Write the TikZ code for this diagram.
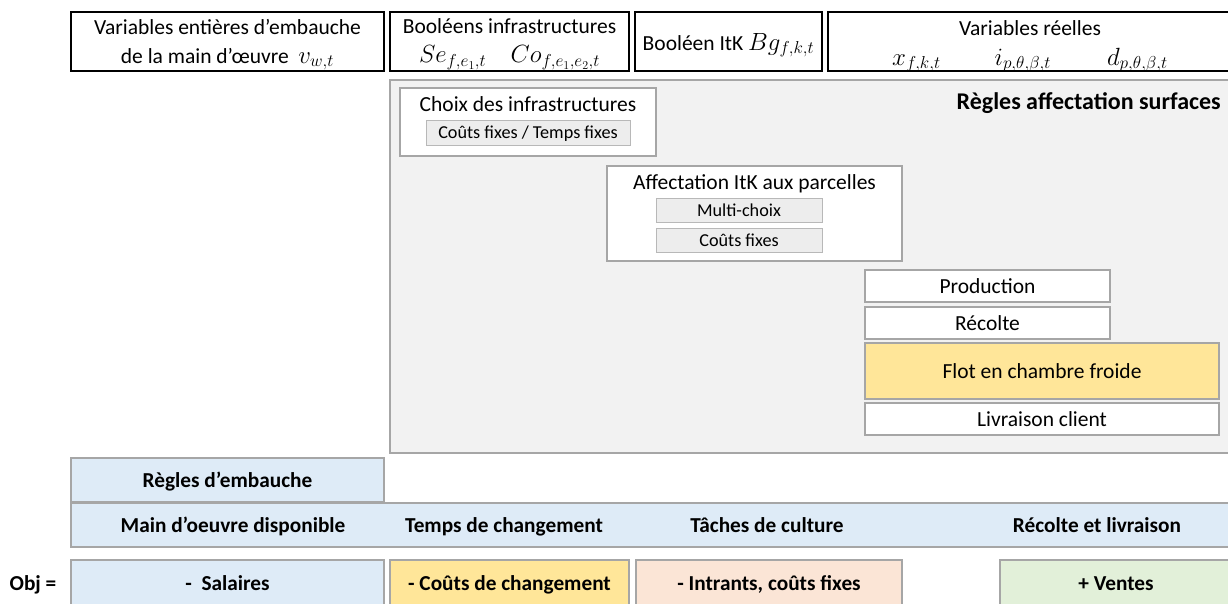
\documentclass[tikz,border=0pt]{standalone}
\usepackage{fontspec}
\setmainfont{Carlito}
\definecolor{grayfill}{HTML}{F2F2F2}
\definecolor{grayline}{HTML}{A6A6A6}
\definecolor{innerfill}{HTML}{EDEDED}
\definecolor{lblue}{HTML}{DEEBF7}
\definecolor{lyellow}{HTML}{FFE699}
\definecolor{lpeach}{HTML}{FBE5D6}
\definecolor{lgreen}{HTML}{E2F0D9}
\newcommand{\varmath}[1]{{\fontsize{24.5}{29}\selectfont$#1$}}
\tikzset{
  th/.style={text height=16pt, text depth=2pt},
  thi/.style={text height=13.5pt, text depth=1.5pt},
  varbox/.style={draw=black, line width=1.3pt, fill=white, inner sep=0pt},
  subbox/.style={draw=grayline, line width=1.2pt, fill=white, inner sep=0pt, th, font=\fontsize{21.5}{26}\selectfont},
  innerbox/.style={draw=grayline!80, line width=1pt, fill=innerfill, inner sep=0pt, thi, font=\fontsize{18.2}{22}\selectfont},
  rulebox/.style={draw=grayline, line width=1.2pt, inner sep=0pt, th, font=\bfseries\fontsize{21.3}{26}\selectfont},
  lbl/.style={inner sep=0pt, th, font=\fontsize{21.5}{26}\selectfont},
  mlbl/.style={inner sep=0pt, align=center, font=\fontsize{21.5}{29}\selectfont},
  blbl/.style={inner sep=0pt, th, font=\bfseries\fontsize{21.3}{26}\selectfont},
}
\begin{document}
\begin{tikzpicture}[x=1pt,y=-1pt]
\useasboundingbox (0,0) rectangle (1228,603);
\clip (0,0) rectangle (1228,603);
% top variable boxes
\node[varbox, minimum width=313pt, minimum height=59pt] (vent) at (227.5,41.5) {};
\node[mlbl] (ventt) at (227.5,44.5)
  {Variables entières d’embauche\\de la main d’œuvre~ \varmath{v_{w,t}}};
\node[varbox, minimum width=239pt, minimum height=59pt] (vbool) at (509.5,41.5) {};
\node[mlbl] (vboolt) at (509.5,44.5)
  {Booléens infrastructures\\\varmath{Se_{f,e_1,t}\quad Co_{f,e_1,e_2,t}}};
\node[varbox, minimum width=187pt, minimum height=59pt] (vitk) at (728.5,41.5) {};
\node[lbl] (vitkt) at (728.5,43) {Booléen ItK \varmath{Bg_{f,k,t}}};
\node[varbox, minimum width=404pt, minimum height=59pt] (vreel) at (1030,41.5) {};
\node[lbl] (vreelt) at (1030,28) {Variables réelles};
\node[lbl] (vreelm) at (1030,58)
  {\varmath{x_{f,k,t}}\hspace{54pt}\varmath{i_{p,\theta,\beta,t}}\hspace{56pt}\varmath{d_{p,\theta,\beta,t}}};
% gray area
\node[draw=grayline, line width=1.2pt, fill=grayfill, minimum width=842pt, minimum height=373pt, inner sep=0pt] (area) at (811,266.5) {};
\node[inner sep=0pt, text height=17.5pt, text depth=2pt, font=\bfseries\fontsize{24}{28}\selectfont, anchor=east] (rtitle) at (1221,102) {Règles affectation surfaces};
% choix infrastructures
\node[subbox, minimum width=256pt, minimum height=68pt] (choix) at (528,122) {};
\node[lbl] (choixt) at (528,104) {Choix des infrastructures};
\node[innerbox, minimum width=204pt, minimum height=25pt] (cf) at (528,132.5) {Coûts fixes / Temps fixes};
% affectation itk
\node[subbox, minimum width=295pt, minimum height=95pt] (aff) at (754.5,213.5) {};
\node[lbl] (afft) at (754.5,182) {Affectation ItK aux parcelles};
\node[innerbox, minimum width=166pt, minimum height=24pt] (mc) at (739,210) {Multi-choix};
\node[innerbox, minimum width=166pt, minimum height=24pt] (cfx) at (739,240) {Coûts fixes};
% production chain
\node[subbox, minimum width=245pt, minimum height=32pt] (prod) at (987.5,286) {Production};
\node[subbox, minimum width=245pt, minimum height=32pt] (rec) at (987.5,323) {Récolte};
\node[subbox, fill=lyellow, minimum width=354pt, minimum height=56pt] (flot) at (1042,371) {Flot en chambre froide};
\node[subbox, minimum width=354pt, minimum height=32pt] (liv) at (1042,419) {Livraison client};
% rules
\node[rulebox, fill=lblue, minimum width=313pt, minimum height=44pt] (remb) at (227.5,480) {Règles d’embauche};
\node[rulebox, fill=lblue, minimum width=1160pt, minimum height=44pt] (bar) at (651,525) {};
\node[blbl] (b1) at (233,525) {Main d’oeuvre disponible};
\node[blbl] (b2) at (504,525) {Temps de changement};
\node[blbl] (b3) at (767,525) {Tâches de culture};
\node[blbl] (b4) at (1097,525) {Récolte et livraison};
% objective
\node[blbl] (obj) at (33,583) {Obj =};
\node[rulebox, fill=lblue, minimum width=313pt, minimum height=50pt] (o1) at (227.5,585) {};
\node[blbl] (o1t) at (227.5,583) {-~ Salaires};
\node[rulebox, fill=lyellow, minimum width=239pt, minimum height=50pt] (o2) at (509.5,585) {};
\node[blbl] (o2t) at (509.5,583) {- Coûts de changement};
\node[rulebox, fill=lpeach, minimum width=266pt, minimum height=50pt] (o3) at (769,585) {};
\node[blbl] (o3t) at (769,583) {- Intrants, coûts fixes};
\node[rulebox, fill=lgreen, minimum width=232pt, minimum height=50pt] (o4) at (1116,585) {};
\node[blbl] (o4t) at (1116,583) {+ Ventes};
\end{tikzpicture}
\end{document}
